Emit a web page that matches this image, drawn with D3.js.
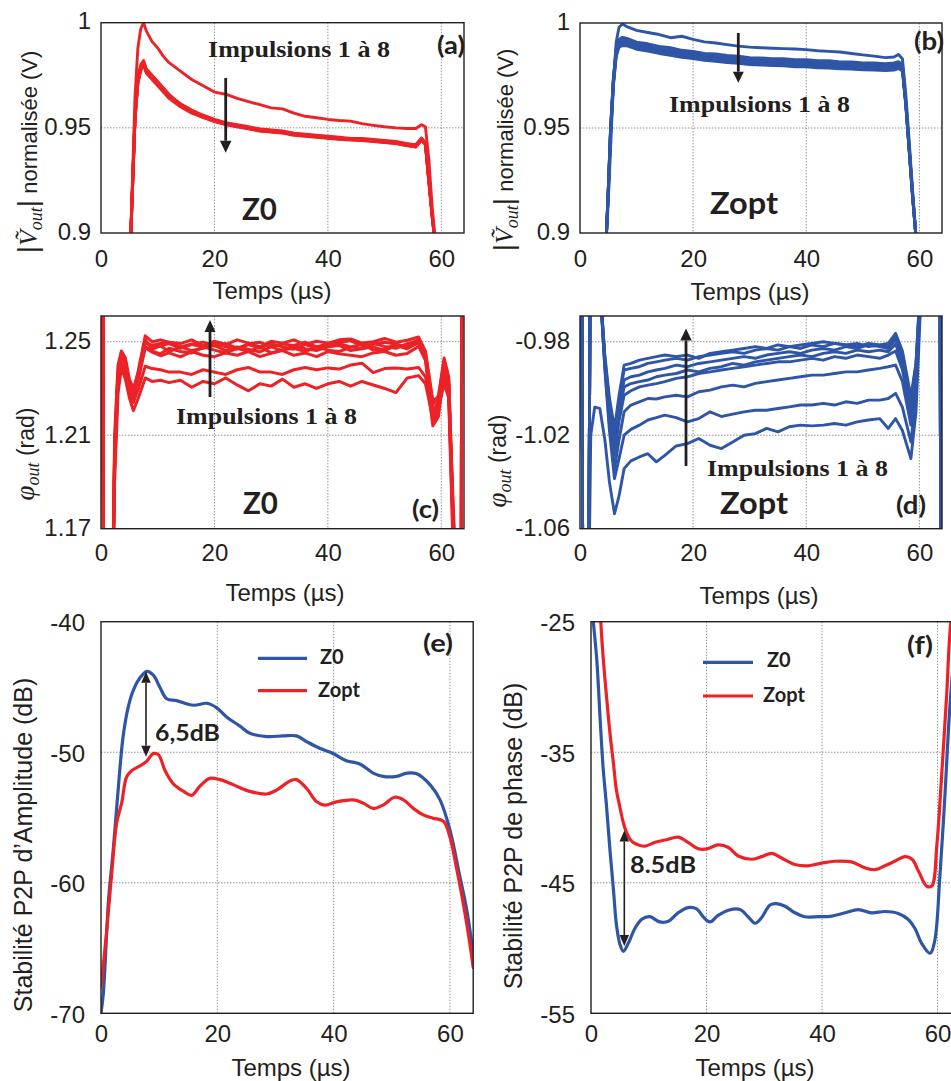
<!DOCTYPE html>
<html><head><meta charset="utf-8">
<script src="https://cdn.jsdelivr.net/npm/d3@7"></script>
<style>html,body{margin:0;padding:0;background:#fff;}svg{display:block;background:#fff;}</style>
</head><body>
<svg id="fig" width="951" height="1081"></svg>
<script>
// ---------------- DATA ----------------
const X_TICKS = [0, 20, 40, 60];

// (a) |Vout| normalised, Z0, pulses 1..8
const A_T  = [5.2,5.6,6.0,6.5,7.0,7.5,8.0,9,10,11,12,13,14,16,18,20,22,24,26,28,30,32,34,36,38,40,42,44,46,48,50,52,54,55.5,56.5,57.2,57.8,58.4,59.0];
const A_P1 = [0.895,0.93,0.965,0.988,0.997,1.0,0.996,0.991,0.988,0.984,0.981,0.979,0.977,0.973,0.970,0.967,0.966,0.964,0.9625,0.961,0.9595,0.959,0.957,0.9555,0.9548,0.954,0.9535,0.9532,0.952,0.9512,0.9505,0.950,0.9497,0.9497,0.9515,0.9505,0.935,0.912,0.895];
const A_P2 = [0.895,0.927,0.957,0.974,0.980,0.982,0.978,0.975,0.972,0.969,0.966,0.9635,0.9615,0.9585,0.956,0.954,0.9525,0.9515,0.9505,0.9495,0.949,0.9485,0.9475,0.947,0.9465,0.946,0.9455,0.945,0.945,0.9445,0.944,0.9435,0.9425,0.942,0.945,0.943,0.926,0.909,0.893];
const A_P3 = [0.895,0.924,0.954,0.971,0.977,0.980,0.976,0.973,0.970,0.967,0.964,0.962,0.960,0.957,0.955,0.953,0.9515,0.9505,0.9495,0.9485,0.948,0.9475,0.9465,0.946,0.9455,0.945,0.9445,0.9442,0.944,0.9435,0.943,0.9425,0.9415,0.941,0.944,0.942,0.924,0.907,0.893];
const A_P4 = [0.895,0.926,0.956,0.973,0.979,0.9815,0.9775,0.9745,0.9715,0.9685,0.9655,0.9635,0.961,0.958,0.9555,0.9535,0.952,0.951,0.9502,0.9492,0.9488,0.948,0.9472,0.9468,0.946,0.9458,0.945,0.9448,0.9444,0.9442,0.9436,0.943,0.9422,0.9412,0.9448,0.9428,0.925,0.908,0.893];
const A_P5 = [0.895,0.925,0.955,0.972,0.978,0.980,0.977,0.9735,0.9705,0.9675,0.9648,0.9625,0.9605,0.9575,0.955,0.9532,0.9518,0.9508,0.9498,0.9488,0.9482,0.9478,0.9468,0.9462,0.9458,0.9452,0.9448,0.9445,0.9442,0.9438,0.9432,0.9428,0.9418,0.9408,0.9442,0.9422,0.925,0.908,0.893];
const A_P6 = [0.895,0.926,0.956,0.9725,0.9785,0.9805,0.9765,0.974,0.971,0.968,0.9652,0.963,0.961,0.958,0.9558,0.9538,0.9522,0.9512,0.9502,0.9492,0.9487,0.9482,0.9474,0.9466,0.9462,0.9456,0.9452,0.9447,0.9446,0.9441,0.9437,0.9432,0.9424,0.9418,0.9452,0.9426,0.925,0.908,0.893];
const A_P7 = [0.895,0.924,0.954,0.9715,0.9775,0.9805,0.9768,0.9738,0.9706,0.9678,0.9646,0.9628,0.9606,0.9578,0.9552,0.9534,0.9516,0.9506,0.9496,0.9486,0.9481,0.9476,0.9468,0.9463,0.9457,0.9453,0.9447,0.9444,0.9441,0.9437,0.9431,0.9426,0.9416,0.9413,0.9446,0.9424,0.925,0.908,0.893];
const A_P8 = [0.895,0.925,0.955,0.972,0.978,0.981,0.977,0.974,0.971,0.968,0.965,0.963,0.961,0.958,0.9555,0.9535,0.952,0.951,0.950,0.949,0.9485,0.948,0.947,0.9465,0.946,0.9455,0.945,0.9448,0.9445,0.944,0.9435,0.943,0.942,0.9415,0.9445,0.9425,0.925,0.908,0.893];

// (b) |Vout| normalised, Zopt, pulses 1..8
const B_T  = [4.6,5.0,5.4,5.9,6.4,6.9,7.5,8.5,10,12,14,16,18,20,22,24,26,28,30,32,34,36,38,40,42,44,46,48,50,52,54,55.5,56.3,57.0,57.6,58.2,58.8,59.5];
const B_P1 = [0.895,0.915,0.94,0.971,0.991,0.998,0.9995,0.998,0.9965,0.9955,0.9945,0.993,0.9937,0.9922,0.991,0.9905,0.9897,0.989,0.9885,0.9882,0.988,0.9878,0.9876,0.9873,0.9868,0.9865,0.9862,0.9855,0.9848,0.9842,0.9835,0.9838,0.985,0.983,0.966,0.944,0.92,0.895];
const B_P2 = [0.895,0.921,0.95,0.974,0.988,0.9922,0.9932,0.9925,0.9909,0.9901,0.9888,0.9882,0.9870,0.9865,0.9855,0.9853,0.9845,0.9842,0.9835,0.9834,0.9830,0.9830,0.9825,0.9825,0.9820,0.9820,0.9815,0.9815,0.9810,0.9810,0.9806,0.9810,0.9816,0.9804,0.963,0.941,0.919,0.895];
const B_P3 = [0.895,0.919,0.947,0.971,0.985,0.9893,0.9901,0.9896,0.9884,0.9871,0.9864,0.9851,0.9846,0.9836,0.9831,0.9823,0.9821,0.9813,0.9811,0.9805,0.9806,0.9801,0.9801,0.9796,0.9796,0.9791,0.9791,0.9786,0.9786,0.9781,0.9782,0.9783,0.9790,0.9778,0.961,0.939,0.917,0.895];
const B_P4 = [0.895,0.92,0.949,0.973,0.987,0.9912,0.9922,0.9913,0.9898,0.9892,0.9878,0.9871,0.9860,0.9857,0.9845,0.9843,0.9835,0.9833,0.9825,0.9825,0.9820,0.9820,0.9815,0.9816,0.9810,0.9811,0.9805,0.9806,0.9800,0.9801,0.9796,0.9800,0.9806,0.9794,0.962,0.940,0.918,0.895];
const B_P5 = [0.895,0.92,0.948,0.972,0.9855,0.9900,0.9908,0.9905,0.9892,0.9879,0.9872,0.9859,0.9854,0.9844,0.9839,0.9831,0.9829,0.9821,0.9819,0.9813,0.9814,0.9809,0.9809,0.9804,0.9804,0.9799,0.9799,0.9794,0.9794,0.9789,0.9790,0.9790,0.9797,0.9786,0.962,0.940,0.918,0.895];
const B_P6 = [0.895,0.921,0.949,0.9725,0.9865,0.9908,0.9916,0.9908,0.9897,0.9883,0.9877,0.9863,0.9859,0.9848,0.9844,0.9835,0.9834,0.9825,0.9824,0.9817,0.9819,0.9813,0.9814,0.9808,0.9809,0.9803,0.9804,0.9798,0.9799,0.9793,0.9795,0.9793,0.9804,0.9789,0.962,0.940,0.918,0.895];
const B_P7 = [0.895,0.919,0.946,0.970,0.984,0.9885,0.9893,0.9890,0.9875,0.9866,0.9855,0.9846,0.9837,0.9831,0.9822,0.9818,0.9812,0.9808,0.9802,0.9800,0.9797,0.9796,0.9792,0.9791,0.9787,0.9786,0.9782,0.9781,0.9777,0.9776,0.9773,0.9776,0.9783,0.9771,0.961,0.939,0.917,0.895];
const B_P8 = [0.895,0.92,0.948,0.972,0.986,0.9905,0.9915,0.991,0.9895,0.9885,0.9875,0.9865,0.9857,0.985,0.9842,0.9837,0.9832,0.9827,0.9822,0.9819,0.9817,0.9815,0.9812,0.981,0.9807,0.9805,0.9802,0.98,0.9797,0.9795,0.9793,0.9795,0.9802,0.979,0.962,0.94,0.918,0.895];

// (c) phase, Z0, pulses 1..8
const C_T  = [0,0.3,0.5,1.8,2.4,3.0,3.6,4.3,5.0,5.7,6.6,7.8,9,10.5,12,14,16,18,20,22,24,26,28,30,32,34,36,38,40,42,44,46,48,50,52,54,56,57.2,58.5,59.5,60.5,61.3,62.1,63.5,63.6,64];
const C_P1 = [1.30,1.30,1.10,1.10,1.19,1.228,1.2385,1.234,1.226,1.2205,1.226,1.2345,1.233,1.2335,1.2325,1.2335,1.2305,1.233,1.232,1.2345,1.2315,1.2290,1.232,1.231,1.2340,1.2305,1.232,1.2300,1.232,1.2330,1.2310,1.233,1.2315,1.2300,1.2282,1.2345,1.2355,1.232,1.2175,1.2215,1.232,1.226,1.16,1.10,1.30,1.30];
const C_P2 = [1.30,1.30,1.10,1.10,1.195,1.232,1.241,1.237,1.229,1.224,1.230,1.2395,1.2385,1.238,1.2370,1.237,1.2360,1.2380,1.237,1.2360,1.2380,1.2390,1.2370,1.237,1.2360,1.2380,1.2390,1.238,1.2388,1.2383,1.2400,1.2408,1.2368,1.2385,1.2388,1.2383,1.239,1.235,1.2155,1.220,1.236,1.228,1.165,1.10,1.30,1.30];
const C_P3 = [1.30,1.30,1.10,1.10,1.20,1.236,1.2445,1.241,1.232,1.2275,1.234,1.2475,1.2455,1.2440,1.2452,1.2435,1.2458,1.2442,1.2436,1.2452,1.2442,1.2458,1.2436,1.2450,1.2462,1.2442,1.2452,1.2436,1.2458,1.2448,1.2442,1.2436,1.2452,1.2458,1.2442,1.2450,1.2480,1.2420,1.2140,1.2180,1.2390,1.2300,1.170,1.10,1.30,1.30];
const C_P4 = [1.30,1.30,1.10,1.10,1.21,1.240,1.2460,1.243,1.234,1.2300,1.237,1.2510,1.2468,1.2482,1.2458,1.2478,1.2462,1.2472,1.2484,1.2462,1.2478,1.2468,1.2456,1.2478,1.2462,1.2484,1.2470,1.2462,1.2478,1.2484,1.2462,1.2470,1.2478,1.2462,1.2484,1.2470,1.2500,1.2440,1.2190,1.2230,1.2410,1.2320,1.175,1.10,1.30,1.30];
const C_P5 = [1.30,1.30,1.10,1.10,1.205,1.238,1.2450,1.242,1.233,1.2290,1.236,1.2495,1.2485,1.2492,1.2498,1.2478,1.2490,1.2498,1.2482,1.2492,1.2472,1.2490,1.2498,1.2478,1.2490,1.2484,1.2498,1.2478,1.2492,1.2498,1.2504,1.2484,1.2490,1.2498,1.2490,1.2478,1.2510,1.2450,1.2230,1.2270,1.2430,1.2350,1.18,1.10,1.30,1.30];
const C_P6 = [1.30,1.30,1.10,1.10,1.20,1.237,1.2455,1.241,1.231,1.2280,1.238,1.2525,1.2500,1.2508,1.2498,1.2492,1.2508,1.2482,1.2502,1.2488,1.2508,1.2494,1.2478,1.2502,1.2494,1.2508,1.2488,1.2502,1.2494,1.2508,1.2512,1.2494,1.2500,1.2514,1.2498,1.2506,1.2520,1.2460,1.2250,1.2260,1.2420,1.2340,1.17,1.10,1.30,1.30];
const C_P7 = [1.30,1.30,1.10,1.10,1.198,1.235,1.2440,1.240,1.230,1.2260,1.235,1.2480,1.2460,1.2448,1.2472,1.2458,1.2452,1.2478,1.2464,1.2452,1.2472,1.2458,1.2478,1.2452,1.2466,1.2472,1.2458,1.2478,1.2464,1.2458,1.2476,1.2492,1.2464,1.2470,1.2488,1.2474,1.2495,1.2435,1.2170,1.2200,1.2400,1.2310,1.172,1.10,1.30,1.30];
const C_P8 = [1.30,1.30,1.10,1.10,1.202,1.236,1.2450,1.241,1.231,1.2270,1.236,1.2500,1.2475,1.2482,1.2492,1.2472,1.2488,1.2478,1.2492,1.2478,1.2468,1.2488,1.2472,1.2492,1.2478,1.2468,1.2488,1.2472,1.2482,1.2492,1.2478,1.2472,1.2492,1.2480,1.2472,1.2492,1.2505,1.2445,1.2200,1.2250,1.2420,1.2330,1.175,1.10,1.30,1.30];

// (d) phase, Zopt, pulses 1..8
const D_T  = [0,0.3,0.5,1.5,1.9,2.6,3.5,4.4,5.2,6.1,6.9,7.8,9,10.5,12,13.5,15,17,19,21,23,25,27,29,31,33,35,37,39,41,43,45,47,49,51,53,54.5,55.8,57,58.5,59.4,60.2,61,63.6,63.8,64];
const D_P1 = [-0.90,-0.90,-1.10,-1.10,-1.02,-1.008,-1.0085,-1.022,-1.040,-1.0536,-1.046,-1.0343,-1.031,-1.0293,-1.0279,-1.0314,-1.0286,-1.0246,-1.0236,-1.0214,-1.0243,-1.0257,-1.0229,-1.020,-1.0193,-1.0171,-1.0186,-1.0164,-1.0157,-1.016,-1.0157,-1.015,-1.0157,-1.0143,-1.0135,-1.0129,-1.0171,-1.0129,-1.018,-1.030,-1.01,-0.965,-0.90,-0.90,-1.10,-1.10];
const D_P2 = [-0.90,-0.90,-1.10,-1.10,-0.90,-0.90,-0.955,-0.992,-1.018,-1.0386,-1.030,-1.020,-1.0175,-1.0157,-1.0135,-1.0125,-1.0114,-1.0125,-1.0143,-1.0129,-1.0100,-1.0120,-1.0110,-1.0100,-1.0093,-1.0093,-1.0086,-1.0079,-1.0071,-1.0071,-1.0064,-1.0071,-1.0057,-1.0064,-1.0050,-1.0050,-1.0043,-1.0021,-1.008,-1.0229,-1.003,-0.962,-0.90,-0.90,-1.10,-1.10];
const D_P3 = [-0.90,-0.90,-1.10,-1.10,-0.90,-0.90,-0.955,-0.991,-1.015,-1.0343,-1.022,-1.010,-1.0071,-1.0057,-1.0043,-1.0045,-1.0036,-1.0029,-1.0036,-1.0014,-1.0007,-0.9993,-0.9986,-0.9993,-0.9978,-0.9971,-0.9964,-0.9957,-0.9950,-0.9943,-0.9943,-0.9936,-0.9929,-0.9929,-0.9921,-0.9914,-0.9907,-0.990,-0.997,-1.0157,-0.998,-0.960,-0.90,-0.90,-1.10,-1.10];
const D_P4 = [-0.90,-0.90,-1.10,-1.10,-0.90,-0.90,-0.955,-0.990,-1.012,-1.0286,-1.014,-1.0029,-1.001,-0.9993,-0.9986,-0.9979,-0.9971,-0.9957,-0.9950,-0.9936,-0.9929,-0.9921,-0.9914,-0.9907,-0.9900,-0.9893,-0.9886,-0.9886,-0.9879,-0.9871,-0.9879,-0.9864,-0.9871,-0.9857,-0.9864,-0.9871,-0.9857,-0.984,-0.992,-1.0114,-0.995,-0.958,-0.90,-0.90,-1.10,-1.10];
const D_P5 = [-0.90,-0.90,-1.10,-1.10,-0.90,-0.90,-0.955,-0.989,-1.010,-1.0257,-1.011,-0.9993,-0.9979,-0.9971,-0.9964,-0.9950,-0.9943,-0.9936,-0.9921,-0.9929,-0.9914,-0.9907,-0.9893,-0.9900,-0.9886,-0.9879,-0.9871,-0.9864,-0.9857,-0.9864,-0.9850,-0.9843,-0.9850,-0.9836,-0.9843,-0.9836,-0.9843,-0.981,-0.989,-1.0086,-0.993,-0.957,-0.90,-0.90,-1.10,-1.10];
const D_P6 = [-0.90,-0.90,-1.10,-1.10,-0.90,-0.90,-0.955,-0.988,-1.008,-1.0229,-1.008,-0.9964,-0.9950,-0.9943,-0.9929,-0.9921,-0.9914,-0.9900,-0.9907,-0.9893,-0.9886,-0.9879,-0.9871,-0.9864,-0.9871,-0.9857,-0.9850,-0.9843,-0.9850,-0.9836,-0.9829,-0.9836,-0.9821,-0.9829,-0.9814,-0.9821,-0.9829,-0.979,-0.987,-1.0064,-0.991,-0.956,-0.90,-0.90,-1.10,-1.10];
const D_P7 = [-0.90,-0.90,-1.10,-1.10,-0.90,-0.90,-0.955,-0.987,-1.006,-1.0200,-1.005,-0.9921,-0.9914,-0.9907,-0.9893,-0.9886,-0.9879,-0.9871,-0.9879,-0.9864,-0.9857,-0.9850,-0.9843,-0.9850,-0.9836,-0.9829,-0.9836,-0.9821,-0.9829,-0.9814,-0.9821,-0.9807,-0.9814,-0.9821,-0.9807,-0.9814,-0.9821,-0.9775,-0.985,-1.005,-0.990,-0.955,-0.90,-0.90,-1.10,-1.10];
const D_P8 = [-0.90,-0.90,-1.10,-1.10,-0.90,-0.90,-0.955,-0.986,-1.004,-1.0171,-1.003,-0.9900,-0.9893,-0.9879,-0.9871,-0.9864,-0.9857,-0.9864,-0.9857,-0.9871,-0.9850,-0.9843,-0.9836,-0.9829,-0.9821,-0.9829,-0.9814,-0.9821,-0.9814,-0.9807,-0.9800,-0.9807,-0.9814,-0.9807,-0.9821,-0.9814,-0.9807,-0.9764,-0.984,-1.0036,-0.989,-0.954,-0.90,-0.90,-1.10,-1.10];

// (e) P2P amplitude stability (dB)
const E_T_Z0   = [0,0.4,1.3,2.1,3.0,3.8,4.7,5.6,6.7,7.9,9.0,10.1,11.3,13.0,15.9,18.2,19.9,21.6,23.9,25.6,28.5,31.3,33.6,35.4,37.6,39.9,42.2,44.5,46.8,48.5,50.8,52.6,54.3,56.6,58.3,60.0,61.7,62.9,64.0];
const E_Z0     = [-70,-68.5,-61.3,-57.5,-52.6,-48.8,-46.5,-45.2,-44.3,-43.8,-44.1,-45.0,-45.9,-46.05,-46.4,-46.25,-46.6,-47.3,-48.0,-48.55,-48.8,-48.75,-48.75,-49.2,-49.7,-50.1,-50.65,-50.9,-51.6,-51.85,-51.85,-51.6,-51.65,-52.5,-53.65,-55.95,-59.5,-62.1,-65.4];
const E_T_ZOPT = [0,1.0,1.8,2.7,3.55,4.4,5.3,6.7,7.85,9.0,9.9,11.0,12.4,14.2,15.6,17.0,18.7,20.5,22.8,25.6,28.5,30.2,32.5,33.6,35.4,37.1,38.5,40.5,43.4,45.1,46.8,48.5,50.5,52.0,53.7,55.4,57.1,58.9,60.0,61.1,62.3,63.4,64.0];
const E_ZOPT   = [-68,-63.6,-59.5,-55.4,-53.9,-51.9,-51.4,-51.05,-50.7,-50.1,-50.2,-51.4,-52.4,-53.0,-53.3,-52.6,-52.0,-52.1,-52.5,-53.0,-53.2,-52.9,-52.2,-52.1,-52.8,-53.8,-54.05,-53.8,-53.65,-53.9,-54.3,-54.05,-53.45,-53.65,-54.3,-54.8,-55.05,-55.3,-56.5,-58.8,-61.6,-64.6,-66.5];

// (f) P2P phase stability (dB)
const F_T_Z0   = [0,0.4,1.0,1.6,2.1,2.7,3.3,3.9,4.4,5.0,5.6,6.5,7.6,8.8,10.2,11.9,13.4,15.1,16.8,18.3,19.4,20.6,22.0,23.8,25.8,27.2,28.4,29.5,31.0,32.1,33.6,35.3,37.0,39.4,41.7,44.0,46.3,48.6,50.9,53.2,54.9,56.1,57.2,58.7,59.5,60.4,61.3,62.1,63.0,64.0];
const F_Z0     = [-23,-25,-27.9,-32.6,-36.2,-39.2,-42.6,-45.6,-48.2,-49.7,-50.25,-49.6,-48.5,-47.8,-47.6,-48.0,-47.95,-47.3,-46.9,-47.0,-47.6,-48.0,-47.5,-47.1,-47.05,-47.6,-48.1,-47.7,-46.7,-46.6,-46.8,-47.3,-47.6,-47.6,-47.55,-47.3,-47.05,-47.3,-47.2,-47.35,-47.8,-48.5,-49.6,-50.4,-49.5,-44.6,-38.2,-31.8,-27,-24];
const F_T_ZOPT = [1.5,1.7,2.1,2.7,3.3,3.9,4.4,5.0,5.6,6.2,7.0,7.9,9.3,11.1,13.1,15.1,16.8,18.6,20.1,22.0,23.8,25.5,27.8,29.5,31.3,33.0,35.3,37.6,39.9,42.2,45.1,47.4,49.2,50.9,52.6,54.4,55.6,56.7,58.1,59.0,59.9,60.7,61.6,62.3,64.0];
const F_ZOPT   = [-22,-25,-27.7,-30.8,-33.6,-35.9,-37.9,-39.2,-40.4,-41.2,-41.8,-42.05,-42.2,-41.9,-41.7,-41.5,-41.9,-42.4,-42.4,-42.1,-42.3,-42.95,-43.2,-43.0,-42.75,-43.1,-43.6,-43.7,-43.5,-43.35,-43.4,-43.85,-44.0,-43.7,-43.35,-43.0,-43.2,-44.1,-45.25,-45.25,-42.05,-36.9,-30.5,-25.1,-20];

const Y_TICKS_A = [0.9, 0.95, 1];
const Y_TICKS_C = [1.17, 1.21, 1.25];
const Y_TICKS_D = [-1.06, -1.02, -0.98];
const Y_TICKS_E = [-70, -60, -50, -40];
const Y_TICKS_F = [-55, -45, -35, -25];

// ---------------- DRAWING ----------------
const svg = d3.select("#fig");
const RED = "#ec2227", BLUE = "#2f55a6", INK = "#231f20";
const SANS = '"Liberation Sans", Arial, Helvetica, sans-serif';
const BOLD = 'Lato, "Open Sans", sans-serif';
const SERIF = '"Liberation Serif", "DejaVu Serif", serif';
const defs = svg.append("defs");

function panel(o) {
  const x = d3.scaleLinear().domain([0, 64]).range([o.L, o.R]);
  const y = d3.scaleLinear().domain(o.yDom).range([o.B, o.T]);
  const g = svg.append("g");
  const cid = "clip-" + o.id;
  defs.append("clipPath").attr("id", cid).append("rect")
    .attr("x", o.L).attr("y", o.T).attr("width", o.R - o.L).attr("height", o.B - o.T);
  g.append("g").selectAll("line").data(X_TICKS.filter(d => d > 0)).join("line")
    .attr("x1", d => x(d)).attr("x2", d => x(d)).attr("y1", o.T).attr("y2", o.B)
    .attr("stroke", "#7a7a7a").attr("stroke-width", 0.8).attr("stroke-dasharray", "1.5,1.5");
  g.append("g").selectAll("line").data(o.yGrid).join("line")
    .attr("y1", d => y(d)).attr("y2", d => y(d)).attr("x1", o.L).attr("x2", o.R)
    .attr("stroke", "#7a7a7a").attr("stroke-width", 0.8).attr("stroke-dasharray", "1.5,1.5");
  const sg = g.append("g").attr("clip-path", `url(#${cid})`);
  const line = d3.line().x(d => x(d[0])).y(d => y(d[1]));
  if (o.smooth) line.curve(d3.curveCatmullRom.alpha(0.5));
  o.series.forEach(s => {
    sg.append("path").datum(d3.zip(s.t, s.v)).attr("d", line)
      .attr("fill", "none").attr("stroke", s.c).attr("stroke-width", o.lw)
      .attr("stroke-linejoin", "round").attr("stroke-linecap", "round");
  });
  g.append("rect").attr("x", o.L).attr("y", o.T).attr("width", o.R - o.L).attr("height", o.B - o.T)
    .attr("fill", "none").attr("stroke", INK).attr("stroke-width", 1.4);
  const gx = g.append("g").attr("transform", `translate(0,${o.B})`)
    .call(d3.axisBottom(x).tickValues(X_TICKS).tickSize(0).tickPadding(o.xPad).tickFormat(d => String(d)));
  gx.select(".domain").remove();
  gx.selectAll("text").attr("fill", INK).style("font-family", SANS).style("font-size", "24px");
  const gy = g.append("g").attr("transform", `translate(${o.L},0)`)
    .call(d3.axisLeft(y).tickValues(o.yTicks).tickSize(0).tickPadding(o.yPad).tickFormat(d => String(d)));
  gy.select(".domain").remove();
  gy.selectAll("text").attr("dy", o.yDy).attr("fill", INK).style("font-family", SANS).style("font-size", "24px");
  g.append("text").attr("x", o.xl[0]).attr("y", o.xl[1]).attr("text-anchor", "middle")
    .attr("fill", INK).style("font-family", SANS).style("font-size", "24px").text("Temps (µs)");
  return { x, y, g };
}

function arrowV(x, tail, tip, len, w, lw) {
  const dir = tip > tail ? 1 : -1;
  svg.append("line").attr("x1", x).attr("x2", x).attr("y1", tail).attr("y2", tip - dir * len)
    .attr("stroke", INK).attr("stroke-width", lw);
  svg.append("path").attr("d", `M${x},${tip} L${x - w / 2},${tip - dir * len} L${x + w / 2},${tip - dir * len} Z`).attr("fill", INK);
}
function dblArrow(x, y1, y2, len, w, lw) {
  svg.append("line").attr("x1", x).attr("x2", x).attr("y1", y1 + len).attr("y2", y2 - len)
    .attr("stroke", INK).attr("stroke-width", lw);
  svg.append("path").attr("d", `M${x},${y1} L${x - w / 2},${y1 + len} L${x + w / 2},${y1 + len} Z`).attr("fill", INK);
  svg.append("path").attr("d", `M${x},${y2} L${x - w / 2},${y2 - len} L${x + w / 2},${y2 - len} Z`).attr("fill", INK);
}
function label(x, y, txt, font, size, opts = {}) {
  const t = svg.append("text").attr("x", x).attr("y", y).attr("fill", INK)
    .style("font-family", font).style("font-size", size + "px").style("font-weight", opts.weight || "bold")
    .attr("text-anchor", opts.anchor || "start").text(txt);
  if (opts.len) t.attr("textLength", opts.len).attr("lengthAdjust", "spacingAndGlyphs");
  return t;
}
function vLabelV(x, y) {
  const t = svg.append("text").attr("transform", `translate(${x},${y}) rotate(-90)`).attr("text-anchor", "middle")
    .attr("fill", INK).style("font-family", SANS).style("font-size", "22px");
  t.append("tspan").style("font-family", SANS).style("font-size", "28px").text("|");
  t.append("tspan").style("font-family", SERIF).style("font-style", "italic").style("font-size", "26px").text("V\u0303");
  t.append("tspan").attr("dy", 5).style("font-family", SERIF).style("font-style", "italic").style("font-size", "18px").text("out");
  t.append("tspan").attr("dy", -5).style("font-family", SANS).style("font-size", "28px").text("|");
  t.append("tspan").text(" normalisée (V)");
}
function phiLabel(x, y) {
  const t = svg.append("text").attr("transform", `translate(${x},${y}) rotate(-90)`).attr("text-anchor", "middle")
    .attr("fill", INK).style("font-family", SANS).style("font-size", "23px");
  t.append("tspan").style("font-family", SERIF).style("font-style", "italic").style("font-size", "27px").text("φ");
  t.append("tspan").attr("dy", 5).style("font-family", SERIF).style("font-style", "italic").style("font-size", "18px").text("out");
  t.append("tspan").attr("dy", -5).text("  (rad)");
}
function rotLabel(x, y, txt, size) {
  svg.append("text").attr("transform", `translate(${x},${y}) rotate(-90)`).attr("text-anchor", "middle")
    .attr("fill", INK).style("font-family", SANS).style("font-size", size + "px").text(txt);
}

const mk = (t, list, c) => list.map(v => ({ t, v, c }));

panel({ id: "a", L: 101, R: 464, T: 22.7, B: 233, yDom: [0.9, 1.0], yTicks: Y_TICKS_A, yGrid: [0.95],
  xPad: 16.5, yPad: 10, yDy: "0.26em", lw: 2.9, xl: [272, 299],
  series: mk(A_T, [A_P8, A_P7, A_P6, A_P5, A_P4, A_P3, A_P2, A_P1], RED) });
panel({ id: "b", L: 580, R: 942, T: 23, B: 233, yDom: [0.9, 1.0], yTicks: Y_TICKS_A, yGrid: [0.95],
  xPad: 16.5, yPad: 10, yDy: "0.26em", lw: 2.9, xl: [750, 300],
  series: mk(B_T, [B_P8, B_P7, B_P6, B_P5, B_P4, B_P3, B_P2, B_P1], BLUE) });
panel({ id: "c", L: 101, R: 464, T: 316, B: 528.7, yDom: [1.17, 1.261], yTicks: Y_TICKS_C, yGrid: [1.21, 1.25],
  xPad: 15, yPad: 10, yDy: "0.30em", lw: 3.0, xl: [285, 601],
  series: mk(C_T, [C_P1, C_P2, C_P3, C_P4, C_P5, C_P6, C_P7, C_P8], RED) });
panel({ id: "d", L: 580, R: 942, T: 316, B: 528.7, yDom: [-1.06, -0.969], yTicks: Y_TICKS_D, yGrid: [-1.02, -0.98],
  xPad: 15.5, yPad: 10, yDy: "0.30em", lw: 2.9, xl: [759, 604],
  series: mk(D_T, [D_P1, D_P2, D_P3, D_P4, D_P5, D_P6, D_P7, D_P8], BLUE) });
panel({ id: "e", L: 101, R: 473.2, T: 621.7, B: 1013.3, yDom: [-70, -40], yTicks: Y_TICKS_E, yGrid: [-60, -50],
  xPad: 12, yPad: 16, yDy: "0.38em", lw: 3.2, xl: [291, 1075.5], smooth: true,
  series: [{ t: E_T_Z0, v: E_Z0, c: BLUE }, { t: E_T_ZOPT, v: E_ZOPT, c: RED }] });
panel({ id: "f", L: 591, R: 960.6, T: 621.7, B: 1013.3, yDom: [-55, -25], yTicks: Y_TICKS_F, yGrid: [-45, -35],
  xPad: 12, yPad: 16, yDy: "0.38em", lw: 3.2, xl: [755, 1075.5], smooth: true,
  series: [{ t: F_T_Z0, v: F_Z0, c: BLUE }, { t: F_T_ZOPT, v: F_ZOPT, c: RED }] });

vLabelV(37, 152);
vLabelV(512.5, 150);
phiLabel(34, 454);
phiLabel(506, 461);
rotLabel(32, 845, "Stabilité P2P d’Amplitude (dB)", 25);
rotLabel(522, 836, "Stabilité P2P de phase (dB)", 25);

label(208, 57, "Impulsions 1 à 8", SERIF, 23, { len: 182 });
label(669, 112, "Impulsions 1 à 8", SERIF, 23, { len: 181 });
label(176, 424, "Impulsions 1 à 8", SERIF, 23, { len: 181 });
label(707, 476, "Impulsions 1 à 8", SERIF, 23, { len: 181 });
label(242, 219.5, "Z0", BOLD, 30, { len: 35 });
label(710, 213.5, "Zopt", BOLD, 30, { len: 68 });
label(243, 513.5, "Z0", BOLD, 30, { len: 35 });
label(720, 513.5, "Zopt", BOLD, 30, { len: 68 });
label(437, 54, "(a)", BOLD, 24, { len: 28 });
label(914, 50, "(b)", BOLD, 24, { len: 30 });
label(412, 518, "(c)", BOLD, 24, { len: 27 });
label(896, 514, "(d)", BOLD, 24, { len: 30 });
label(423, 652, "(e)", BOLD, 24, { len: 30 });
label(907, 654, "(f)", BOLD, 24, { len: 26 });
arrowV(225.7, 78, 152.7, 12, 11.5, 2.8);
arrowV(738.3, 33, 82.7, 11, 11, 2.8);
arrowV(210, 397, 320, 12, 11, 2.8);
arrowV(686, 466, 328.5, 12, 11.5, 2.8);
dblArrow(146, 671.7, 756.7, 11, 9.5, 1.6);
dblArrow(624.3, 830.5, 946, 11, 9.5, 1.6);
label(155, 740.7, "6,5dB", BOLD, 23, { len: 65 });
label(630, 873, "8.5dB", BOLD, 23, { len: 66 });

const legE = [{ name: "Z0", c: BLUE, y: 658.3, ty: 663.5, tx: 320 }, { name: "Zopt", c: RED, y: 690.7, ty: 697, tx: 318 }];
legE.forEach(d => {
  svg.append("line").attr("x1", 258).attr("x2", 307).attr("y1", d.y).attr("y2", d.y).attr("stroke", d.c).attr("stroke-width", 3.2);
  label(d.tx, d.ty, d.name, BOLD, 20);
});
const legF = [{ name: "Z0", c: BLUE, y: 662.3, ty: 667, tx: 767 }, { name: "Zopt", c: RED, y: 696, ty: 701.5, tx: 763 }];
legF.forEach(d => {
  svg.append("line").attr("x1", 703).attr("x2", 753).attr("y1", d.y).attr("y2", d.y).attr("stroke", d.c).attr("stroke-width", 3.2);
  label(d.tx, d.ty, d.name, BOLD, 20);
});
</script>
</body></html>
